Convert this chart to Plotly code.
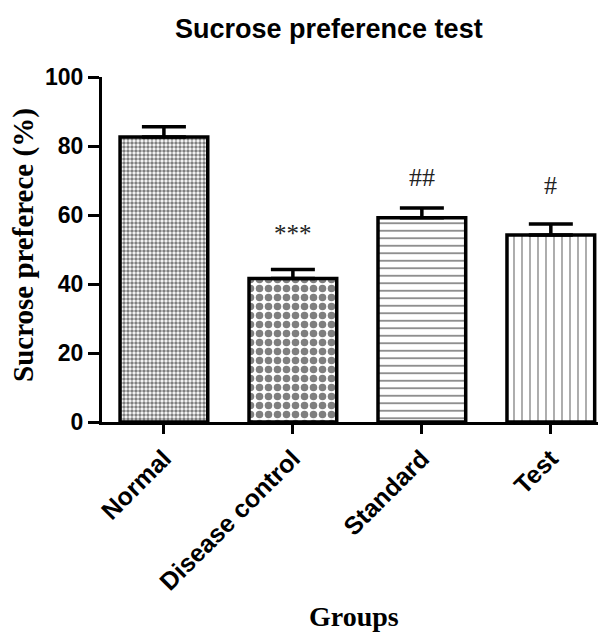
import plotly.graph_objects as go

groups = ["Normal", "Disease control", "Standard", "Test"]
means = [82.6, 41.6, 59.2, 54.2]
sems = [3.0, 2.6, 2.8, 3.2]
marks = ["", "***", "##", "#"]
pattern_shapes = [".", ".", "-", "|"]
pattern_sizes = [4, 9, 7.5, 8]
pattern_solid = [0.6, 0.55, 0.22, 0.16]
y_ticks = [0, 20, 40, 60, 80, 100]

# page has an 8px body margin; plot area in page px: x 102..605, y 77..422
W, H = 598, 627
L, T = 94, 69
PW, PH = 503, 345

def px(xp):
    return (xp - 8 - L) / PW

def py(yp):
    return (T + PH - (yp - 8)) / PH

fig = go.Figure()
for i, g in enumerate(groups):
    fig.add_trace(go.Bar(
        x=[g], y=[means[i]],
        width=0.68,
        marker=dict(
            color="white",
            line=dict(color="black", width=3.5),
            pattern=dict(shape=pattern_shapes[i], size=pattern_sizes[i],
                         solidity=pattern_solid[i], fgcolor="black",
                         bgcolor="white", fillmode="overlay"),
        ),
        error_y=dict(type="data", symmetric=False, array=[sems[i]], arrayminus=[0],
                     color="black", thickness=3.5, width=22),
        showlegend=False,
    ))

mark_shift = {"***": 36, "##": 31, "#": 38}
for i, g in enumerate(groups):
    if marks[i]:
        fig.add_annotation(
            x=g, y=means[i] + sems[i], yref="y", xref="x",
            text=marks[i], showarrow=False, yanchor="middle",
            yshift=mark_shift[marks[i]],
            font=dict(family="Liberation Serif, Times New Roman",
                      size=25 if marks[i] == "***" else 26, color="#222"),
        )

fig.add_annotation(
    text="<b>Sucrose preference test</b>", xref="paper", yref="paper",
    x=px(329), y=py(29), showarrow=False,
    xanchor="center", yanchor="middle",
    font=dict(family="Liberation Sans, Arial", size=27, color="black"),
)
fig.add_annotation(
    text="<b>Groups</b>", xref="paper", yref="paper",
    x=px(354), y=py(616), showarrow=False,
    xanchor="center", yanchor="middle",
    font=dict(family="Liberation Serif, Times New Roman", size=28, color="black"),
)
fig.add_annotation(
    text="<b>Sucrose preferece (%)</b>", xref="paper", yref="paper",
    x=px(23), y=py(245), showarrow=False, textangle=-90,
    xanchor="center", yanchor="middle",
    font=dict(family="Liberation Serif, Times New Roman", size=29, color="black"),
)

fig.update_layout(
    width=W, height=H,
    margin=dict(l=L, r=W - L - PW, t=T, b=H - T - PH, pad=0),
    plot_bgcolor="white", paper_bgcolor="white",
    font=dict(family="Liberation Sans, Arial", color="black"),
)
fig.update_xaxes(
    range=[-0.48, 3.42],
    showline=True, linecolor="black", linewidth=3,
    ticks="outside", ticklen=9, tickwidth=3, tickcolor="black",
    tickangle=-45,
    tickfont=dict(family="Liberation Sans, Arial", size=25, color="black", weight="bold"),
    showgrid=False, zeroline=False,
)
fig.update_yaxes(
    range=[0, 100], tickvals=y_ticks,
    showline=True, linecolor="black", linewidth=3,
    ticks="outside", ticklen=11, tickwidth=3, tickcolor="black",
    tickfont=dict(family="Liberation Sans, Arial", size=23, color="black", weight="bold"),
    showgrid=False, zeroline=False,
)

fig.write_html("out.html")
